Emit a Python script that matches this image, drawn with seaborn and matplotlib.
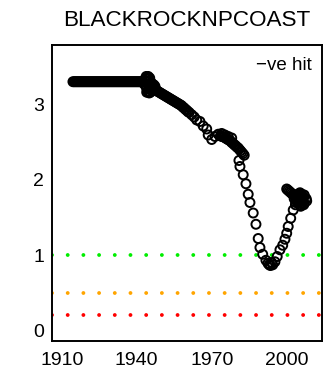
import matplotlib
matplotlib.use("Agg")
import matplotlib.pyplot as plt
import seaborn as sns
import pandas as pd

# ---- data ----
flat_years = [1914.5, 1915.0, 1915.5, 1916.0, 1916.5, 1917.0, 1917.5, 1918.0, 1918.5, 1919.0,
              1919.5, 1920.0, 1920.5, 1921.0, 1921.5, 1922.0, 1922.5, 1923.0, 1923.5, 1924.0,
              1924.5, 1925.0, 1925.5, 1926.0, 1926.5, 1927.0, 1927.5, 1928.0, 1928.5, 1929.0,
              1929.5, 1930.0, 1930.5, 1931.0, 1931.5, 1932.0, 1932.5, 1933.0, 1933.5, 1934.0,
              1934.5, 1935.0, 1935.5, 1936.0, 1936.5, 1937.0, 1937.5, 1938.0, 1938.5, 1939.0,
              1939.5, 1940.0, 1940.5, 1941.0, 1941.5, 1942.0]
flat_values = [3.31] * len(flat_years)

blob1_years = [1942.5, 1943.0, 1943.5, 1944.0, 1944.5, 1945.0, 1945.5, 1946.0, 1943.5, 1944.0,
               1944.5, 1945.0, 1945.5, 1946.5, 1947.0, 1947.5, 1948.0, 1946.0, 1943.0, 1944.8,
               1945.8, 1944.2, 1944.6, 1945.2, 1943.8, 1946.3, 1944.0, 1945.0, 1946.8, 1947.3]
blob1_values = [3.31, 3.33, 3.35, 3.36, 3.35, 3.32, 3.28, 3.24, 3.26, 3.22,
                3.18, 3.16, 3.17, 3.21, 3.22, 3.21, 3.19, 3.19, 3.28, 3.25,
                3.30, 3.31, 3.38, 3.36, 3.38, 3.27, 3.17, 3.22, 3.27, 3.25]

decline_years = [1948.0, 1948.5, 1949.0, 1949.5, 1950.0, 1950.5, 1951.0, 1951.5, 1952.0, 1952.5,
                 1953.0, 1953.5, 1954.0, 1954.5, 1955.0, 1955.5, 1956.0, 1956.5, 1957.0, 1957.5,
                 1958.0, 1958.5, 1959.0, 1959.5, 1960.0, 1960.5, 1961.0]
decline_values = [3.19, 3.18, 3.17, 3.16, 3.15, 3.14, 3.13, 3.12, 3.11, 3.10,
                  3.09, 3.08, 3.07, 3.06, 3.05, 3.04, 3.03, 3.02, 3.01, 3.00,
                  2.99, 2.97, 2.96, 2.94, 2.93, 2.91, 2.90]

sparse_years = [1962.0, 1963.0, 1964.0, 1965.3, 1966.6, 1968.0, 1968.6, 1970.0, 1971.3, 1972.6,
                1974.0, 1975.3, 1976.6, 1978.0]
sparse_values = [2.87, 2.84, 2.80, 2.78, 2.72, 2.68, 2.60, 2.54, 2.58, 2.61,
                 2.62, 2.60, 2.58, 2.56]

band2_years = [1973.5, 1974.0, 1974.5, 1975.0, 1975.5, 1976.0, 1976.5, 1977.0, 1977.5, 1978.0,
               1978.5, 1979.0, 1979.5, 1980.0, 1980.5, 1981.0, 1981.5, 1982.0, 1982.5, 1983.0]
band2_values = [2.59, 2.58, 2.58, 2.57, 2.56, 2.55, 2.54, 2.53, 2.52, 2.50,
                2.49, 2.47, 2.46, 2.44, 2.43, 2.41, 2.39, 2.37, 2.35, 2.33]

dip_years = [1980.9, 1981.3, 1982.6, 1983.7, 1984.6, 1985.3, 1986.6, 1987.7, 1988.6, 1989.3,
             1990.4, 1991.7, 1992.5, 1993.0, 1993.5, 1994.4, 1994.0, 1995.3, 1996.2, 1997.3,
             1998.4, 1999.3, 2000.0, 2000.6, 2001.6, 2002.6, 2003.5]
dip_values = [2.26, 2.18, 2.07, 1.95, 1.81, 1.70, 1.56, 1.41, 1.22, 1.10,
              1.01, 0.93, 0.89, 0.87, 0.86, 0.87, 0.90, 0.91, 0.98, 1.07,
              1.13, 1.21, 1.29, 1.38, 1.49, 1.60, 1.67]

band3_years = [2000.0, 2000.5, 2001.0, 2001.5, 2002.0, 2002.5, 2003.0, 2003.5, 2004.0]
band3_values = [1.88, 1.865, 1.85, 1.835, 1.82, 1.805, 1.79, 1.775, 1.76]

blob2_years = [2005.3, 2007.0, 2007.8, 2007.0, 2005.3, 2003.6, 2003.0, 2003.6, 2005.3, 2006.2,
               2004.4, 2006.5, 2004.5, 2006.5, 2004.1, 2005.3, 2005.3, 2006.0, 2004.6, 2006.0,
               2004.6, 2005.8, 2004.8, 2006.8, 2003.8, 2005.3, 2005.3, 2005.6, 2006.8, 2008.0]
blob2_values = [1.83, 1.80, 1.75, 1.69, 1.67, 1.70, 1.75, 1.80, 1.75, 1.78,
                1.72, 1.72, 1.78, 1.75, 1.75, 1.79, 1.71, 1.81, 1.81, 1.69,
                1.69, 1.74, 1.76, 1.77, 1.73, 1.77, 1.73, 1.65, 1.67, 1.72]

threshold_values = [1.0, 0.5, 0.2]
threshold_colors = ["#00EE00", "#FFA500", "#FF0000"]

x_ticks = [1910, 1920, 1930, 1940, 1950, 1960, 1970, 1980, 1990, 2000, 2010]
x_labels = ["1910", "", "", "1940", "", "", "1970", "", "", "2000", ""]
y_ticks = [0, 1, 2, 3]

title_text = "BLACKROCKNPCOAST"
legend_text = "\u2212ve hit"

# ---- build table ----
years = (flat_years + blob1_years + decline_years + sparse_years + band2_years
         + dip_years + band3_years + blob2_years)
values = (flat_values + blob1_values + decline_values + sparse_values + band2_values
          + dip_values + band3_values + blob2_values)
df = pd.DataFrame({"year": years, "value": values})

sns.set_style("white")
plt.rcParams["font.family"] = ["Liberation Sans", "DejaVu Sans"]
plt.rcParams["lines.scale_dashes"] = False

W, H = 323, 374
fig = plt.figure(figsize=(W / 100, H / 100), dpi=100)
ax = fig.add_axes([51.7 / W, (H - 341) / H, 270 / W, 296.5 / H])

for v, c in zip(threshold_values, threshold_colors):
    ax.axhline(v, color=c, linewidth=2.8, linestyle=(0, (0.001, 11.3)),
               dash_capstyle="round", zorder=1)

sns.scatterplot(data=df, x="year", y="value", marker="o", s=42,
                facecolors="none", edgecolor="black", linewidth=1.4, ax=ax, zorder=3)
coll = ax.collections[-1]
coll.set_facecolor("none")
coll.set_edgecolor("black")

ax.set_xlim(1906, 2014)
ax.set_ylim(-0.146, 3.806)
ax.set_xticks(x_ticks)
ax.set_xticklabels(x_labels)
ax.set_yticks(y_ticks)
ax.set_xlabel("")
ax.set_ylabel("")

for s in ax.spines.values():
    s.set_visible(True)
    s.set_color("black")
    s.set_linewidth(1.4)

ax.tick_params(axis="both", which="major", direction="out", length=3.6, width=1.4,
               color="black", labelsize=14, labelcolor="black")
ax.tick_params(axis="x", pad=4.5)
ax.tick_params(axis="y", pad=2.0)

fig.text(186.7 / W, 1 - 26.5 / H, title_text, ha="center", va="baseline",
         fontsize=16.2, color="black")
fig.text(312 / W, 1 - 70 / H, legend_text, ha="right", va="baseline",
         fontsize=13.5, color="black")

fig.savefig("out.png", dpi=100)
